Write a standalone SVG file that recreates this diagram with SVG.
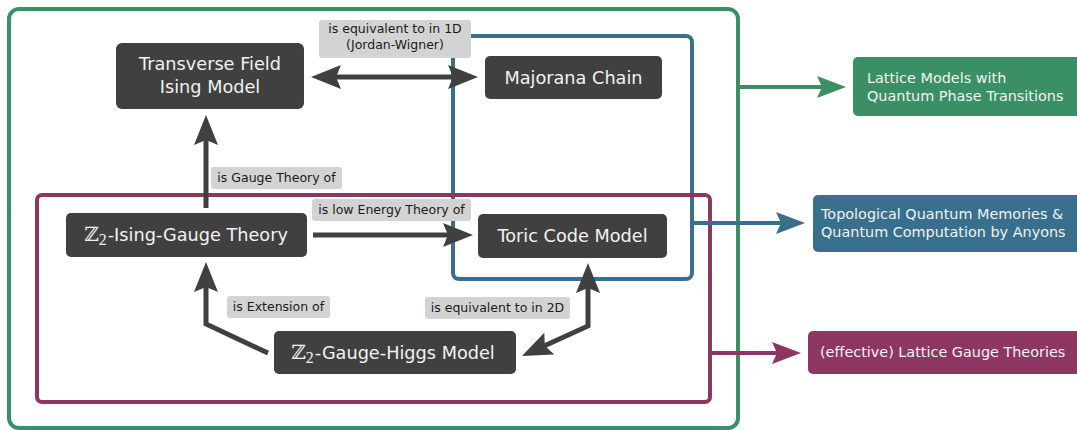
<svg xmlns="http://www.w3.org/2000/svg" width="1077" height="430" viewBox="0 0 1077 430">
  <style>
    .node rect { fill: #404040; }
    .nt { font-family: "DejaVu Sans", sans-serif; font-size: 17.7px; fill: #f2f2f2; text-anchor: middle; }
    .zz { font-family: "DejaVu Serif", serif; font-size: 20px; font-weight: 300; }
    .sub { font-family: "Liberation Serif", serif; font-size: 16px; }
    .lbl rect { fill: #d3d3d3; }
    .lt { font-family: "DejaVu Sans", sans-serif; font-size: 12.5px; fill: #1a1a1a; text-anchor: middle; }
    .ct { font-family: "DejaVu Sans", sans-serif; font-size: 14.4px; fill: #f2f2f2; }
    .edge { fill: none; stroke: #404040; stroke-width: 5; stroke-linejoin: miter; }
    .frame { fill: none; stroke-width: 4; }
  </style>
  <defs>
    <marker id="ah" viewBox="0 0 30 24" refX="10" refY="12" markerWidth="30" markerHeight="24" orient="auto-start-reverse" markerUnits="userSpaceOnUse">
      <path d="M0,0 L30,12 L0,24 L5,12 Z" fill="#404040"/>
    </marker>
    <marker id="ahG" viewBox="0 0 29 22" refX="9" refY="11" markerWidth="29" markerHeight="22" orient="auto" markerUnits="userSpaceOnUse">
      <path d="M0,0 L29,11 L0,22 L5,11 Z" fill="#3a8f65"/>
    </marker>
    <marker id="ahB" viewBox="0 0 29 22" refX="9" refY="11" markerWidth="29" markerHeight="22" orient="auto" markerUnits="userSpaceOnUse">
      <path d="M0,0 L29,11 L0,22 L5,11 Z" fill="#386f8c"/>
    </marker>
    <marker id="ahP" viewBox="0 0 29 22" refX="9" refY="11" markerWidth="29" markerHeight="22" orient="auto" markerUnits="userSpaceOnUse">
      <path d="M0,0 L29,11 L0,22 L5,11 Z" fill="#8e3662"/>
    </marker>
  </defs>

  <!-- grouping frames -->
  <g id="frames">
    <rect class="frame" x="9" y="9" width="729" height="419" rx="10" stroke="#3a8f65"/>
    <rect class="frame" x="453" y="36" width="239" height="243" rx="6" stroke="#386f8c"/>
    <rect class="frame" x="37" y="195" width="673" height="207" rx="5" stroke="#8e3662"/>
  </g>

  <!-- connectors -->
  <g id="connectors">
    <line class="edge" x1="331" y1="77" x2="458" y2="77" marker-start="url(#ah)" marker-end="url(#ah)"/>
    <line class="edge" x1="206" y1="208" x2="206" y2="135" marker-end="url(#ah)"/>
    <line class="edge" x1="313" y1="235" x2="453" y2="235" marker-end="url(#ah)"/>
    <polyline class="edge" points="268,353 206,324 206,282" marker-end="url(#ah)"/>
    <polyline class="edge" points="540.2,347.7 588,326 588,283" marker-start="url(#ah)" marker-end="url(#ah)"/>

    <line x1="738" y1="87" x2="826" y2="87" stroke="#3a8f65" stroke-width="4" marker-end="url(#ahG)"/>
    <line x1="692" y1="223" x2="785" y2="223" stroke="#386f8c" stroke-width="4" marker-end="url(#ahB)"/>
    <line x1="710" y1="353" x2="781" y2="353" stroke="#8e3662" stroke-width="4" marker-end="url(#ahP)"/>
  </g>

  <!-- connector labels -->
  <g id="label-equiv1d" class="lbl">
    <rect x="319" y="20" width="152" height="38" rx="3"/>
    <text class="lt" x="395" y="33">is equivalent to in 1D</text>
    <text class="lt" x="395" y="49">(Jordan-Wigner)</text>
  </g>
  <g id="label-gauge" class="lbl">
    <rect x="211" y="167" width="131" height="22" rx="3"/>
    <text class="lt" x="276.5" y="182">is Gauge Theory of</text>
  </g>
  <g id="label-lowenergy" class="lbl">
    <rect x="312" y="199" width="159" height="22" rx="3"/>
    <text class="lt" x="391.5" y="214">is low Energy Theory of</text>
  </g>
  <g id="label-extension" class="lbl">
    <rect x="227" y="296" width="103" height="22" rx="3"/>
    <text class="lt" x="278.5" y="311">is Extension of</text>
  </g>
  <g id="label-equiv2d" class="lbl">
    <rect x="425" y="297" width="145" height="22" rx="3"/>
    <text class="lt" x="497.5" y="312">is equivalent to in 2D</text>
  </g>

  <!-- model nodes -->
  <g id="tfim" class="node">
    <rect x="116" y="43" width="188" height="66" rx="6"/>
    <text class="nt" x="210" y="70">Transverse Field</text>
    <text class="nt" x="210" y="93">Ising Model</text>
  </g>
  <g id="majorana" class="node">
    <rect x="485" y="56" width="177" height="43" rx="5"/>
    <text class="nt" x="573.5" y="84">Majorana Chain</text>
  </g>
  <g id="toric" class="node">
    <rect x="478" y="214" width="189" height="44" rx="5"/>
    <text class="nt" x="572.5" y="242">Toric Code Model</text>
  </g>
  <g id="z2-ising-gauge" class="node">
    <rect x="66" y="213" width="241" height="44" rx="5"/>
    <text class="nt" x="186" y="241"><tspan class="zz">ℤ</tspan><tspan class="sub" dy="4">2</tspan><tspan dx="1" dy="-4">-Ising-Gauge Theory</tspan></text>
  </g>
  <g id="z2-gauge-higgs" class="node">
    <rect x="274" y="331" width="242" height="43" rx="5"/>
    <text class="nt" x="393" y="359"><tspan class="zz">ℤ</tspan><tspan class="sub" dy="4">2</tspan><tspan dx="1" dy="-4">-Gauge-Higgs Model</tspan></text>
  </g>

  <!-- category nodes -->
  <g id="cat-phase">
    <rect x="853" y="57" width="230" height="59" rx="5" fill="#3a8f65"/>
    <text class="ct" x="867" y="83">Lattice Models with</text>
    <text class="ct" x="867" y="101">Quantum Phase Transitions</text>
  </g>
  <g id="cat-topo">
    <rect x="813" y="195" width="270" height="57" rx="5" fill="#386f8c"/>
    <text class="ct" x="821" y="219">Topological Quantum Memories &amp;</text>
    <text class="ct" x="821" y="237">Quantum Computation by Anyons</text>
  </g>
  <g id="cat-lgt">
    <rect x="808" y="331" width="275" height="43" rx="5" fill="#8e3662"/>
    <text class="ct" x="820" y="357">(effective) Lattice Gauge Theories</text>
  </g>
</svg>
